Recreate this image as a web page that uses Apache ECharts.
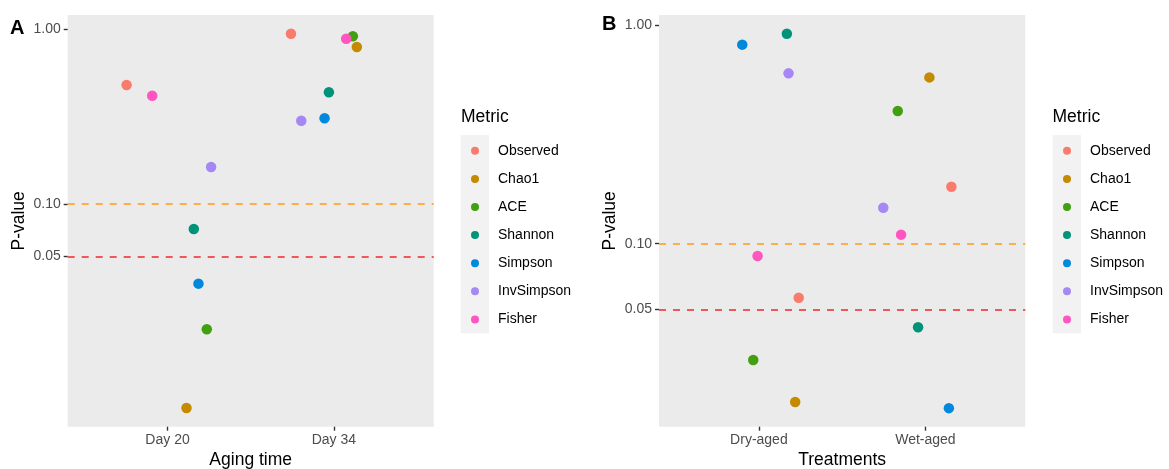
<!DOCTYPE html>
<html>
<head>
<meta charset="utf-8">
<script src="https://cdn.jsdelivr.net/npm/echarts@6/dist/echarts.min.js"></script>
<style>html,body{margin:0;padding:0;background:#fff;}#c{width:1169px;height:469px;}</style>
</head>
<body>
<div id="c"></div>
<script>
// ---- data ----
const metrics = ['Observed', 'Chao1', 'ACE', 'Shannon', 'Simpson', 'InvSimpson', 'Fisher'];
const metricColors = ['#F97B6D', '#C48A00', '#40A010', '#00937A', '#0088DD', '#A587F5', '#FF55C0'];

// Panel A: Aging time
const groupsA = ['Day 20', 'Day 34'];
const pA_day20 = [0.48, 0.0068, 0.0192, 0.072, 0.035, 0.163, 0.417];
const pA_day34 = [0.944, 0.792, 0.912, 0.436, 0.31, 0.30, 0.883];
const jitterA_day20 = [-0.246, 0.114, 0.236, 0.158, 0.186, 0.262, -0.092];
const jitterA_day34 = [-0.258, 0.138, 0.114, -0.030, -0.056, -0.196, 0.074];

// Panel B: Treatments
const groupsB = ['Dry-aged', 'Wet-aged'];
const pB_dry = [0.0566, 0.0189, 0.0294, 0.912, 0.813, 0.601, 0.0879];
const pB_wet = [0.182, 0.576, 0.404, 0.0415, 0.0177, 0.146, 0.110];
const jitterB_dry = [0.239, 0.218, -0.034, 0.168, -0.100, 0.178, -0.008];
const jitterB_wet = [0.156, 0.024, -0.166, -0.044, 0.141, -0.253, -0.146];

const yTicks = [0.05, 0.10, 1.00];
const thresholds = [0.10, 0.05];
const thresholdColors = ['#FF9A1A', '#F02828'];

// ---- chart ----
const font = 'Liberation Sans, Arial, Helvetica, sans-serif';
const chart = echarts.init(document.getElementById('c'), null, {renderer: 'canvas'});

const grids = [
  {left: 67.7, top: 15, width: 366, height: 411.7},
  {left: 659, top: 15, width: 366.3, height: 411.7}
];

function xAxisFor(i, groups, name) {
  return {
    type: 'value', gridIndex: i, min: 0.4, max: 2.6,
    name: name, nameLocation: 'middle', nameGap: 24,
    nameTextStyle: {fontFamily: font, fontSize: 17.5, color: '#000'},
    axisLine: {show: false},
    splitLine: {show: false},
    axisTick: {show: true, customValues: [1, 2], length: 4, lineStyle: {color: '#333', width: 1.4}},
    axisLabel: {customValues: [1, 2], margin: 6, fontFamily: font, fontSize: 14, color: '#4d4d4d',
      formatter: v => groups[Math.round(v) - 1]}
  };
}
function yAxisFor(i, min, max) {
  return {
    type: 'log', gridIndex: i, min: min, max: max, logBase: 10,
    name: 'P-value', nameLocation: 'middle', nameGap: 40, nameRotate: 90,
    nameTextStyle: {fontFamily: font, fontSize: 17.5, color: '#000'},
    axisLine: {show: false},
    splitLine: {show: false},
    minorSplitLine: {show: false},
    axisTick: {show: true, customValues: yTicks, length: 4, lineStyle: {color: '#333', width: 1.4}},
    axisLabel: {customValues: yTicks, margin: 7, fontFamily: font, fontSize: 14, color: '#4d4d4d',
      formatter: v => Number(v).toFixed(2)}
  };
}

const series = [];
function addPanel(panel, pLeft, pRight, jLeft, jRight) {
  metrics.forEach((m, k) => {
    const s = {
      type: 'scatter', name: m, xAxisIndex: panel, yAxisIndex: panel,
      symbolSize: 10.5,
      itemStyle: {color: metricColors[k], opacity: 1},
      emphasis: {disabled: true},
      data: [[1 + jLeft[k], pLeft[k]], [2 + jRight[k], pRight[k]]],
      z: 3
    };
    if (k === 0) {
      s.markLine = {
        silent: true, symbol: 'none', animation: false,
        label: {show: false},
        data: thresholds.map((t, j) => ({yAxis: t, lineStyle: {color: thresholdColors[j], type: [7, 7], width: 1.7}}))
      };
    }
    series.push(s);
  });
}
addPanel(0, pA_day20, pA_day34, jitterA_day20, jitterA_day34);
addPanel(1, pB_dry, pB_wet, jitterB_dry, jitterB_wet);

function legendFor(left) {
  return {
    data: metrics, orient: 'vertical', left: left, top: 143.8, padding: 0,
    itemWidth: 8, itemHeight: 8, itemGap: 14.1, icon: 'circle',
    selectedMode: false,
    textStyle: {fontFamily: font, fontSize: 14, color: '#000', padding: [0, 0, 0, 14]}
  };
}

chart.setOption({
  animation: false,
  backgroundColor: '#fff',
  grid: grids.map(g => Object.assign({show: true, backgroundColor: '#EBEBEB', borderWidth: 0, containLabel: false, outerBoundsMode: 'none'}, g)),
  xAxis: [xAxisFor(0, groupsA, 'Aging time'), xAxisFor(1, groupsB, 'Treatments')],
  yAxis: [yAxisFor(0, 0.00531, 1.208), yAxisFor(1, 0.01456, 1.111)],
  legend: [legendFor(471), legendFor(1063)],
  graphic: [
    {type: 'rect', shape: {x: 460.7, y: 135, width: 28.3, height: 198.3}, style: {fill: '#F2F2F2'}, z: -1, silent: true},
    {type: 'rect', shape: {x: 1052.7, y: 135, width: 28.3, height: 198.3}, style: {fill: '#F2F2F2'}, z: -1, silent: true},
    {type: 'text', x: 461, y: 117, style: {text: 'Metric', font: '17.5px ' + font, fill: '#000', verticalAlign: 'middle'}},
    {type: 'text', x: 1052.5, y: 117, style: {text: 'Metric', font: '17.5px ' + font, fill: '#000', verticalAlign: 'middle'}},
    {type: 'text', x: 10, y: 28, style: {text: 'A', font: 'bold 20px ' + font, fill: '#000', verticalAlign: 'middle'}},
    {type: 'text', x: 602, y: 24, style: {text: 'B', font: 'bold 20px ' + font, fill: '#000', verticalAlign: 'middle'}}
  ],
  series: series
});
</script>
</body>
</html>
